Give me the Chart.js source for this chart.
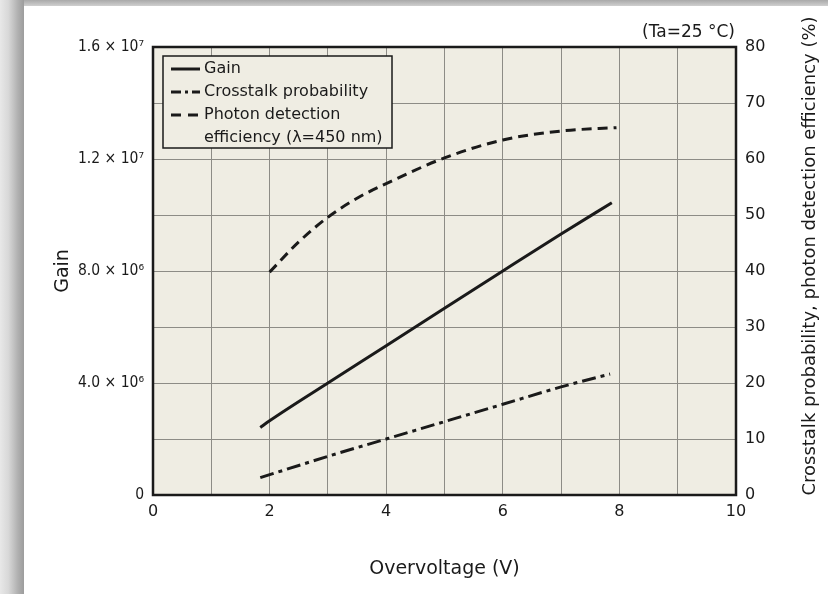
<!DOCTYPE html>
<html><head><meta charset="utf-8">
<script src="https://cdn.jsdelivr.net/npm/chart.js@4"></script>
<style>html,body{margin:0;padding:0;background:#fff}canvas{display:block}</style>
</head><body>
<canvas id="c" width="828" height="594"></canvas>
<script>
// ---- data ----
const gainVoltage = [1.84, 2, 3, 4, 5, 6, 7, 7.87];
const gainValues  = [2.41e6, 2.65e6, 4.0e6, 5.33e6, 6.67e6, 8.0e6, 9.32e6, 10.44e6];
const crosstalkVoltage = [1.84, 3, 4, 5, 6, 7, 7.84];
const crosstalkValues  = [3.1, 6.9, 10.0, 13.1, 16.2, 19.3, 21.6];
const pdeVoltage = [2, 2.5, 3, 3.5, 4, 5, 6, 7, 7.95];
const pdeValues  = [39.8, 45.2, 49.6, 53.0, 55.6, 60.2, 63.4, 65.0, 65.6];

const xTickLabels = ['0', '2', '4', '6', '8', '10'];
const gainTickLabels = ['0', '4.0 × 10⁶', '8.0 × 10⁶', '1.2 × 10⁷', '1.6 × 10⁷'];
const rightTickLabels = ['0', '10', '20', '30', '40', '50', '60', '70', '80'];
const seriesLabels = ['Gain', 'Crosstalk probability', ['Photon detection', 'efficiency (λ=450 nm)']];
const xTitle = 'Overvoltage (V)';
const leftTitle = 'Gain';
const rightTitle = 'Crosstalk probability, photon detection efficiency (%)';
const noteText = '(Ta=25 °C)';

const FONT = "'DejaVu Sans', Verdana, sans-serif";
const TICKFONT = "'Liberation Sans Narrow', 'DejaVu Sans Condensed', 'DejaVu Sans', sans-serif";
const INK = '#1a1a1a';

function pts(xs, ys) { return xs.map((x, i) => ({ x: x, y: ys[i] })); }

const decor = {
  id: 'decor',
  beforeDraw(chart) {
    const { ctx, width, height, chartArea: a } = chart;
    ctx.save();
    ctx.fillStyle = '#ffffff';
    ctx.fillRect(0, 0, width, height);
    let g = ctx.createLinearGradient(0, 0, 0, 6);
    g.addColorStop(0, '#a9a9a9'); g.addColorStop(1, '#cfcfcf');
    ctx.fillStyle = g; ctx.fillRect(0, 0, width, 6);
    g = ctx.createLinearGradient(0, 0, 24, 0);
    g.addColorStop(0, '#e8e8e8'); g.addColorStop(0.35, '#d8d8d8');
    g.addColorStop(0.75, '#b0b0b0'); g.addColorStop(1, '#9c9c9c');
    ctx.fillStyle = g; ctx.fillRect(0, 0, 24, height);
    ctx.fillStyle = '#efede3';
    ctx.fillRect(a.left, a.top, a.right - a.left, a.bottom - a.top);
    ctx.restore();
  },
  afterDraw(chart) {
    const { ctx, chartArea: a } = chart;
    ctx.save();
    ctx.strokeStyle = INK; ctx.lineWidth = 2.5;
    ctx.strokeRect(a.left, a.top, a.right - a.left, a.bottom - a.top);
    const lx = 163, ly = 56, lw = 229, lh = 92;
    ctx.fillStyle = '#efede3';
    ctx.fillRect(lx, ly, lw, lh);
    ctx.lineWidth = 1.5;
    ctx.strokeRect(lx, ly, lw, lh);
    ctx.font = '16px ' + FONT;
    ctx.fillStyle = INK;
    ctx.textBaseline = 'middle';
    ctx.textAlign = 'left';
    const rowY = [69, 92, 115];
    const dashes = [[], [10, 4, 3, 4], [10, 7]];
    chart.data.datasets.forEach((ds, i) => {
      const y = rowY[i];
      ctx.beginPath();
      ctx.setLineDash(dashes[i]);
      ctx.lineWidth = 3;
      ctx.strokeStyle = INK;
      ctx.moveTo(171, y); ctx.lineTo(200, y);
      ctx.stroke();
      ctx.setLineDash([]);
      const lab = seriesLabels[i];
      const lines = Array.isArray(lab) ? lab : [lab];
      lines.forEach((t, j) => ctx.fillText(t, 204, y + j * 22.5));
    });
    ctx.textAlign = 'right';
    ctx.font = '17px ' + FONT;
    ctx.fillText(noteText, 735, 33);
    ctx.save();
    ctx.translate(810, 256);
    ctx.rotate(-Math.PI / 2);
    ctx.textAlign = 'center';
    ctx.font = '18px ' + FONT;
    ctx.fillText(rightTitle, 0, 0);
    ctx.restore();
    ctx.restore();
  }
};

new Chart(document.getElementById('c'), {
  type: 'line',
  data: {
    datasets: [
      { label: 'Gain', data: pts(gainVoltage, gainValues), yAxisID: 'y',
        borderColor: INK, borderWidth: 3, pointRadius: 0, cubicInterpolationMode: 'monotone', fill: false },
      { label: 'Crosstalk probability', data: pts(crosstalkVoltage, crosstalkValues), yAxisID: 'y2',
        borderColor: INK, borderWidth: 3, borderDash: [14, 5, 4, 5], pointRadius: 0, cubicInterpolationMode: 'monotone', fill: false },
      { label: 'Photon detection efficiency (λ=450 nm)', data: pts(pdeVoltage, pdeValues), yAxisID: 'y2',
        borderColor: INK, borderWidth: 3, borderDash: [10, 6], pointRadius: 0, cubicInterpolationMode: 'monotone', fill: false }
    ]
  },
  options: {
    responsive: false,
    animation: false,
    devicePixelRatio: 1,
    layout: { padding: { top: 47, left: 0, right: 0, bottom: 0 } },
    plugins: { legend: { display: false }, tooltip: { enabled: false } },
    scales: {
      x: {
        type: 'linear', min: 0, max: 10,
        ticks: { stepSize: 1, padding: 7, color: INK, font: { family: FONT, size: 16 }, maxRotation: 0,
          callback: v => (v % 2 === 0 ? xTickLabels[v / 2] : '') },
        grid: { color: '#8d8c86', lineWidth: 1, drawTicks: false },
        border: { display: false },
        title: { display: true, text: xTitle, color: INK, font: { family: FONT, size: 19 }, padding: { top: 0, bottom: 14 } },
        afterFit: s => { s.height = 99; }
      },
      y: {
        position: 'left', min: 0, max: 1.6e7,
        ticks: { stepSize: 2e6, padding: 9, color: INK, font: { family: TICKFONT, size: 15.5 },
          callback: v => { const k = Math.round(v / 4e6); return Math.abs(v - k * 4e6) < 1 ? gainTickLabels[k] : ''; } },
        grid: { color: '#8d8c86', lineWidth: 1, drawTicks: false },
        border: { display: false },
        title: { display: true, text: leftTitle, color: INK, font: { family: FONT, size: 19 }, padding: { top: 52, bottom: 0 } },
        afterFit: s => { s.width = 153; }
      },
      y2: {
        position: 'right', min: 0, max: 80,
        ticks: { stepSize: 10, padding: 9, color: INK, font: { family: FONT, size: 16 },
          callback: v => rightTickLabels[Math.round(v / 10)] },
        grid: { display: false, drawTicks: false },
        border: { display: false },
        afterFit: s => { s.width = 92; }
      }
    }
  },
  plugins: [decor]
});
</script>
</body></html>
